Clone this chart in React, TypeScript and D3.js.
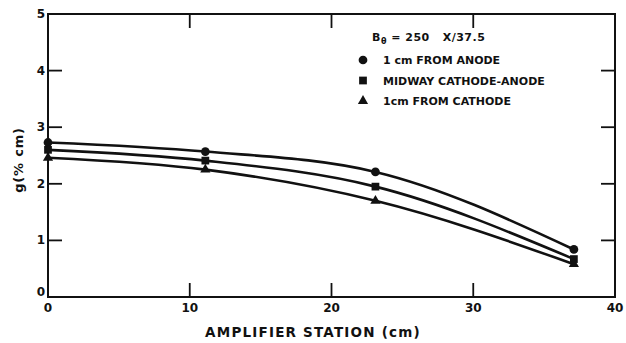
import React, { useEffect, useRef } from 'react';
import * as d3 from 'd3';

// station positions (cm) and g values (% / cm)
const stations = [0, 11.1, 23.1, 37.1];
const anode = [2.73, 2.57, 2.21, 0.84];
const midway = [2.6, 2.41, 1.95, 0.67];
const cathode = [2.46, 2.25, 1.7, 0.58];

const xTicks = [0, 10, 20, 30, 40];
const yTicks = [0, 1, 2, 3, 4, 5];

const seriesList = [
  { name: '1 cm FROM ANODE', values: anode, marker: 'circle' },
  { name: 'MIDWAY CATHODE-ANODE', values: midway, marker: 'square' },
  { name: '1cm FROM CATHODE', values: cathode, marker: 'triangle' }
];

const W = 626;
const H = 343;
const ink = '#111';
const font = '"DejaVu Sans", sans-serif';

const App: React.FC = () => {
  const svgRef = useRef<SVGSVGElement>(null);

  useEffect(() => {
    if (!svgRef.current) return;
    const svg = d3.select(svgRef.current);
    svg.selectAll('*').remove();

    const margin = { top: 14, right: 11, bottom: 46, left: 48 };
    const innerW = W - margin.left - margin.right;
    const innerH = H - margin.top - margin.bottom;

    const g = svg.append('g').attr('transform', `translate(${margin.left},${margin.top})`);

    const x = d3.scaleLinear().domain([0, 40]).range([0, innerW]);
    const y = d3.scaleLinear().domain([0, 5]).range([innerH, 0]);

    // frame
    g.append('rect')
      .attr('width', innerW)
      .attr('height', innerH)
      .style('fill', 'none')
      .style('stroke', ink)
      .style('stroke-width', 2);

    // ticks (inward on all sides)
    const tickLen = 14;
    xTicks.slice(1, -1).forEach(t => {
      g.append('line').attr('x1', x(t)).attr('x2', x(t)).attr('y1', innerH).attr('y2', innerH - tickLen)
        .style('stroke', ink).style('stroke-width', 1.8);
      g.append('line').attr('x1', x(t)).attr('x2', x(t)).attr('y1', 0).attr('y2', tickLen)
        .style('stroke', ink).style('stroke-width', 1.8);
    });
    yTicks.slice(1, -1).forEach(t => {
      g.append('line').attr('x1', 0).attr('x2', tickLen).attr('y1', y(t)).attr('y2', y(t))
        .style('stroke', ink).style('stroke-width', 1.8);
      g.append('line').attr('x1', innerW).attr('x2', innerW - tickLen).attr('y1', y(t)).attr('y2', y(t))
        .style('stroke', ink).style('stroke-width', 1.8);
    });

    // tick labels
    g.selectAll('.xl')
      .data(xTicks)
      .enter()
      .append('text')
      .attr('x', d => x(d))
      .attr('y', innerH + 15)
      .attr('text-anchor', 'middle')
      .style('font-family', font)
      .style('font-weight', 'bold')
      .style('font-size', '12px')
      .style('fill', ink)
      .text(d => d);

    g.selectAll('.yl')
      .data(yTicks)
      .enter()
      .append('text')
      .attr('x', -3)
      .attr('y', d => y(d) + (d === 0 ? -1 : 4))
      .attr('text-anchor', 'end')
      .style('font-family', font)
      .style('font-weight', 'bold')
      .style('font-size', '12px')
      .style('fill', ink)
      .text(d => d);

    // axis titles
    svg.append('text')
      .attr('x', 313)
      .attr('y', 337)
      .attr('text-anchor', 'middle')
      .style('font-family', font)
      .style('font-weight', 'bold')
      .style('font-size', '13.5px')
      .style('letter-spacing', '1.2px')
      .style('fill', ink)
      .text('AMPLIFIER STATION (cm)');

    svg.append('text')
      .attr('transform', 'translate(23,160) rotate(-90)')
      .attr('text-anchor', 'middle')
      .style('font-family', font)
      .style('font-weight', 'bold')
      .style('font-size', '13px')
      .style('letter-spacing', '0.8px')
      .style('fill', ink)
      .text('g(% cm)');

    // curves
    const line = d3.line<[number, number]>()
      .x(d => x(d[0]))
      .y(d => y(d[1]))
      .curve(d3.curveMonotoneX);

    const symbolFor = (m: string) =>
      m === 'circle' ? d3.symbol().type(d3.symbolCircle).size(60)
        : m === 'square' ? d3.symbol().type(d3.symbolSquare).size(60)
        : d3.symbol().type(d3.symbolTriangle).size(45);

    seriesList.forEach(s => {
      const pts: [number, number][] = stations.map((st, i) => [st, s.values[i]]);
      g.append('path')
        .attr('d', line(pts) || '')
        .style('fill', 'none')
        .style('stroke', ink)
        .style('stroke-width', 2.6);
      g.selectAll(null)
        .data(pts)
        .enter()
        .append('path')
        .attr('transform', d => `translate(${x(d[0])},${y(d[1])})`)
        .attr('d', symbolFor(s.marker)() || '')
        .style('fill', ink);
    });

    // legend
    const lg = svg.append('g').attr('transform', 'translate(363,0)');
    const title = lg.append('text')
      .attr('x', 9)
      .attr('y', 41)
      .style('font-family', font)
      .style('font-weight', 'bold')
      .style('font-size', '11px')
      .style('letter-spacing', '0.5px')
      .style('white-space', 'pre')
      .style('fill', ink);
    title.append('tspan').text('B');
    title.append('tspan').attr('dy', 3).style('font-size', '8px').text('θ');
    title.append('tspan').attr('dy', -3).text(' = 250   X/37.5');

    seriesList.forEach((s, i) => {
      const ry = 60 + i * 20.5;
      lg.append('path')
        .attr('transform', `translate(0,${ry})`)
        .attr('d', symbolFor(s.marker)() || '')
        .style('fill', ink);
      lg.append('text')
        .attr('x', 20)
        .attr('y', ry + 4)
        .style('font-family', font)
        .style('font-weight', 'bold')
        .style('font-size', '11px')
        .style('fill', ink)
        .text(s.name);
    });
  }, []);

  return (
    <svg ref={svgRef} width={W} height={H} style={{ position: 'absolute', left: 0, top: 0, background: '#fff' }} />
  );
};

export default App;
